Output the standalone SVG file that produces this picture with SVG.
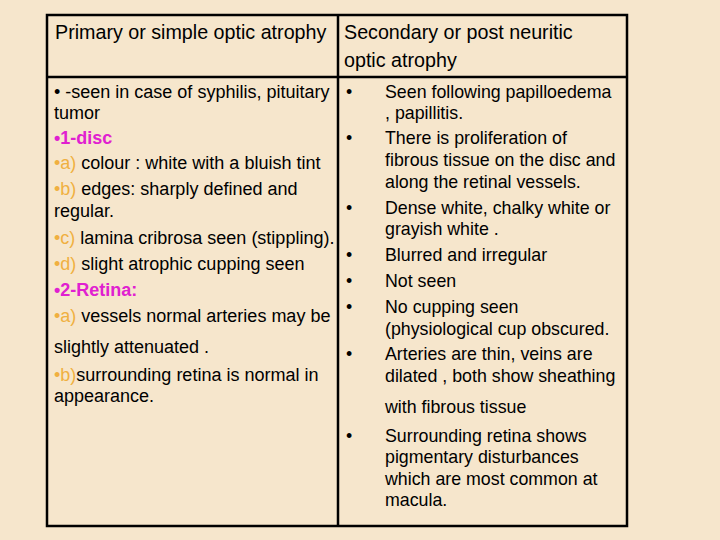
<svg xmlns="http://www.w3.org/2000/svg" width="720" height="540" viewBox="0 0 720 540">
<style>
text{font-family:"Liberation Sans",Arial,sans-serif;font-size:17.8px;fill:#000}
#left text{font-size:18px}
.h{font-size:19.7px}
.o{fill:#f0b040}
.m{fill:#e020d0;font-weight:bold}
</style>
<rect width="720" height="540" fill="#f6e6cc"/>
<g id="table" fill="none" stroke="#000" stroke-width="2.5">
<rect x="47" y="15" width="580" height="511"/>
<line x1="47" y1="77" x2="627" y2="77"/>
<line x1="338" y1="15" x2="338" y2="526"/>
</g>
<g id="header">
<text class="h" x="55" y="39">Primary or simple optic atrophy</text>
<text class="h" x="344" y="39">Secondary or post neuritic</text>
<text class="h" x="344" y="67">optic atrophy</text>
</g>
<g id="left">
<text x="54" y="98">• -seen in case of syphilis, pituitary</text>
<text x="54" y="119">tumor</text>
<text x="54" y="144" class="m">•1-disc</text>
<text x="54" y="169"><tspan class="o">•a)</tspan> colour : white with a bluish tint</text>
<text x="54" y="195"><tspan class="o">•b)</tspan> edges: sharply defined and</text>
<text x="54" y="217">regular.</text>
<text x="54" y="244"><tspan class="o">•c)</tspan> lamina cribrosa seen (stippling).</text>
<text x="54" y="270"><tspan class="o">•d)</tspan> slight atrophic cupping seen</text>
<text x="54" y="296" class="m">•2-Retina:</text>
<text x="54" y="322"><tspan class="o">•a)</tspan> vessels normal arteries may be</text>
<text x="54" y="353">slightly attenuated .</text>
<text x="54" y="381"><tspan class="o">•b)</tspan>surrounding retina is normal in</text>
<text x="54" y="402">appearance.</text>
</g>
<g id="right">
<text x="346" y="98">•</text>
<text x="385" y="98">Seen following papilloedema</text>
<text x="385" y="119">, papillitis.</text>
<text x="346" y="144">•</text>
<text x="385" y="144">There is proliferation of</text>
<text x="385" y="166">fibrous tissue on the disc and</text>
<text x="385" y="188">along the retinal vessels.</text>
<text x="346" y="214">•</text>
<text x="385" y="214">Dense white, chalky white or</text>
<text x="385" y="235">grayish white .</text>
<text x="346" y="261">•</text>
<text x="385" y="261">Blurred and irregular</text>
<text x="346" y="287">•</text>
<text x="385" y="287">Not seen</text>
<text x="346" y="313">•</text>
<text x="385" y="313">No cupping seen</text>
<text x="385" y="335">(physiological cup obscured.</text>
<text x="346" y="360">•</text>
<text x="385" y="360">Arteries are thin, veins are</text>
<text x="385" y="382">dilated , both show sheathing</text>
<text x="385" y="413">with fibrous  tissue</text>
<text x="346" y="442">•</text>
<text x="385" y="442">Surrounding retina shows</text>
<text x="385" y="463">pigmentary disturbances</text>
<text x="385" y="485">which are most common at</text>
<text x="385" y="506">macula.</text>
</g>
</svg>
